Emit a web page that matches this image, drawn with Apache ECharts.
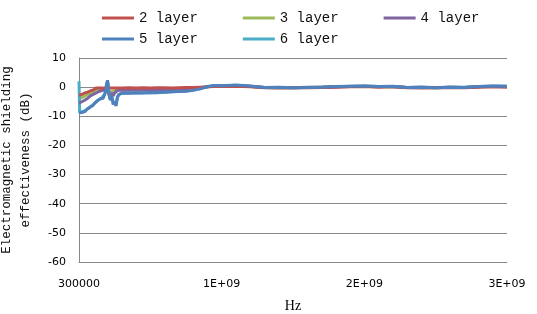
<!DOCTYPE html>
<html><head><meta charset="utf-8">
<script src="https://cdn.jsdelivr.net/npm/echarts@6/dist/echarts.min.js"></script>
<style>html,body{margin:0;padding:0;background:#fff}#c{width:537px;height:314px}</style>
</head><body><div id="c"></div>
<script>
const seriesNames = ['2 layer', '3 layer', '4 layer', '5 layer', '6 layer'];
const xTicks = [300000, 1e9, 2e9, 3e9];
const yTicks = [-60, -50, -40, -30, -20, -10, 0, 10];
const freq = [3e5, 5e6, 1e7, 2e7, 3e7, 4e7, 5e7, 6e7, 7e7, 8e7, 9e7, 1e8, 1.1e8, 1.2e8, 1.3e8, 1.4e8, 1.5e8, 1.6e8, 1.7e8, 1.8e8, 1.9e8, 2.0e8, 2.05e8, 2.1e8, 2.2e8, 2.3e8, 2.4e8, 2.5e8, 2.6e8, 2.7e8, 2.8e8, 2.9e8, 3.0e8, 3.5e8, 4e8, 4.5e8, 5e8, 5.5e8, 6e8, 6.5e8, 7e8, 7.5e8, 8e8, 8.5e8, 9e8, 9.5e8, 1e9, 1.1e9, 1.2e9, 1.3e9, 1.4e9, 1.5e9, 1.6e9, 1.7e9, 1.8e9, 1.9e9, 2e9, 2.1e9, 2.2e9, 2.3e9, 2.4e9, 2.5e9, 2.6e9, 2.7e9, 2.8e9, 2.9e9, 3e9];
const layer2 = [-2.8, -3.0, -2.6, -2.5, -2.2, -2.0, -1.8, -1.7, -1.5, -1.3, -1.2, -1.0, -0.6, -0.3, -0.2, -0.3, -0.2, -0.3, -0.2, -0.4, -0.3, -0.2, -0.3, -0.2, -0.3, -0.2, -0.3, -0.2, -0.3, -0.2, -0.3, -0.2, -0.3, -0.2, -0.3, -0.2, -0.3, -0.2, -0.2, -0.3, -0.2, -0.1, -0.1, 0.0, 0.1, 0.2, 0.2, 0.3, 0.1, -0.2, -0.3, -0.2, -0.2, -0.1, 0.0, 0.1, 0.2, 0.0, 0.1, -0.2, -0.3, -0.2, -0.1, -0.2, 0.0, 0.1, 0.0];
const layer3 = [-4.0, -4.2, -3.8, -3.6, -3.3, -3.0, -2.8, -2.5, -2.3, -2.0, -1.8, -1.6, -1.3, -1.0, -0.9, -0.8, -0.8, -0.7, -0.9, -0.6, -0.4, 1.0, 0.0, -1.5, -2.5, -1.5, -2.0, -1.2, -1.0, -0.8, -0.8, -0.7, -0.8, -0.7, -0.7, -0.6, -0.7, -0.6, -0.6, -0.5, -0.5, -0.4, -0.3, -0.2, 0.1, 0.3, 0.3, 0.4, 0.2, -0.1, -0.2, -0.1, -0.1, 0.0, 0.1, 0.2, 0.3, 0.1, 0.2, -0.1, -0.1, -0.2, 0.0, -0.1, 0.1, 0.2, 0.2];
const layer4 = [-5.5, -5.8, -5.2, -5.0, -4.6, -4.5, -4.0, -3.8, -3.5, -3.0, -2.8, -2.5, -2.0, -2.0, -1.8, -1.5, -1.6, -1.2, -1.8, -1.0, 0.0, 2.0, 0.0, -2.5, -4.0, -2.0, -3.0, -2.0, -1.5, -1.2, -1.1, -1.0, -1.0, -1.1, -0.9, -1.0, -0.9, -1.0, -0.8, -0.9, -0.7, -0.6, -0.5, -0.3, 0.1, 0.4, 0.4, 0.5, 0.3, -0.1, -0.1, -0.2, 0.0, 0.0, 0.1, 0.2, 0.3, 0.2, 0.2, -0.1, 0.0, -0.1, 0.0, -0.1, 0.1, 0.3, 0.2];
const layer5 = [-8.8, -9.0, -8.5, -8.7, -8.2, -8.4, -7.8, -7.5, -7.0, -6.8, -6.5, -6.2, -5.5, -5.0, -4.6, -4.2, -4.0, -3.6, -3.8, -2.5, -1.0, 2.4, 0.5, -2.0, -4.5, -3.0, -6.0, -5.0, -6.5, -3.5, -2.5, -2.2, -2.0, -2.1, -1.9, -2.0, -1.8, -1.9, -1.7, -1.6, -1.5, -1.4, -1.1, -0.6, 0.2, 0.6, 0.5, 0.7, 0.4, -0.1, 0.0, -0.2, -0.1, 0.0, 0.2, 0.3, 0.4, 0.2, 0.3, -0.1, 0.0, -0.2, 0.0, -0.1, 0.2, 0.4, 0.3];
const layer6 = [2.0, -8.8, -8.6, -8.5, -8.3, -8.2, -7.7, -7.4, -7.1, -6.7, -6.4, -6.0, -5.4, -5.1, -4.5, -4.3, -3.9, -3.7, -3.6, -2.4, -1.2, 2.0, 0.3, -2.2, -4.2, -3.2, -5.6, -4.8, -6.0, -3.3, -2.6, -2.1, -2.1, -2.0, -2.0, -1.9, -1.9, -1.8, -1.8, -1.6, -1.5, -1.3, -1.0, -0.5, 0.1, 0.5, 0.5, 0.6, 0.3, -0.1, -0.1, -0.2, -0.1, 0.0, 0.1, 0.3, 0.3, 0.2, 0.2, -0.1, 0.0, -0.2, 0.0, 0.0, 0.2, 0.3, 0.3];
const colors = ['#C0504D', '#9BBB59', '#8064A2', '#4F81BD', '#4BACC6'];
const values = [layer2, layer3, layer4, layer5, layer6];
const zOrder = [4, 1, 3, 5, 2];

const chart = echarts.init(document.getElementById('c'), null, {renderer: 'canvas'});
const legendCommon = {
  orient: 'horizontal', left: 97, itemWidth: 32, itemHeight: 3, itemGap: 45, icon: 'rect',
  textStyle: {fontFamily: 'Liberation Mono', fontSize: 14, color: '#111'}
};
chart.setOption({
  animation: false,
  color: colors,
  legend: [
    Object.assign({top: 6, data: seriesNames.slice(0, 3)}, legendCommon),
    Object.assign({top: 27, data: seriesNames.slice(3)}, legendCommon)
  ],
  grid: {left: 79, right: 30, top: 58, bottom: 52, containLabel: false, outerBoundsMode: 'none'},
  xAxis: {
    type: 'value', min: 300000, max: 3e9,
    name: 'Hz', nameLocation: 'middle', nameGap: 37,
    nameTextStyle: {fontFamily: 'Liberation Serif', fontSize: 14, color: '#000'},
    axisLine: {onZero: false, lineStyle: {color: '#888', width: 1}},
    axisTick: {show: false},
    splitLine: {show: false},
    axisLabel: {
      customValues: xTicks, margin: 17, color: '#000',
      fontFamily: 'DejaVu Sans', fontSize: 11,
      formatter: v => v < 1e6 ? String(v) : (v / 1e9).toFixed(0) + 'E+09'
    }
  },
  yAxis: {
    type: 'value', min: yTicks[0], max: yTicks[yTicks.length - 1], interval: 10,
    name: 'Electromagnetic shielding\neffectiveness (dB)', nameLocation: 'middle', nameGap: 43.5, nameRotate: 90,
    nameTextStyle: {fontFamily: 'Liberation Mono', fontSize: 12.5, lineHeight: 19, color: '#111', align: 'center'},
    axisLine: {show: true, lineStyle: {color: '#888', width: 1}},
    axisTick: {show: false},
    splitLine: {lineStyle: {color: '#888', width: 1}},
    axisLabel: {margin: 13, color: '#000', fontFamily: 'DejaVu Sans', fontSize: 11}
  },
  series: seriesNames.map((n, i) => ({
    name: n, type: 'line', showSymbol: false, z: zOrder[i],
    lineStyle: {width: 3, color: colors[i]},
    data: freq.map((f, j) => [f, values[i][j]])
  }))
});
</script></body></html>
